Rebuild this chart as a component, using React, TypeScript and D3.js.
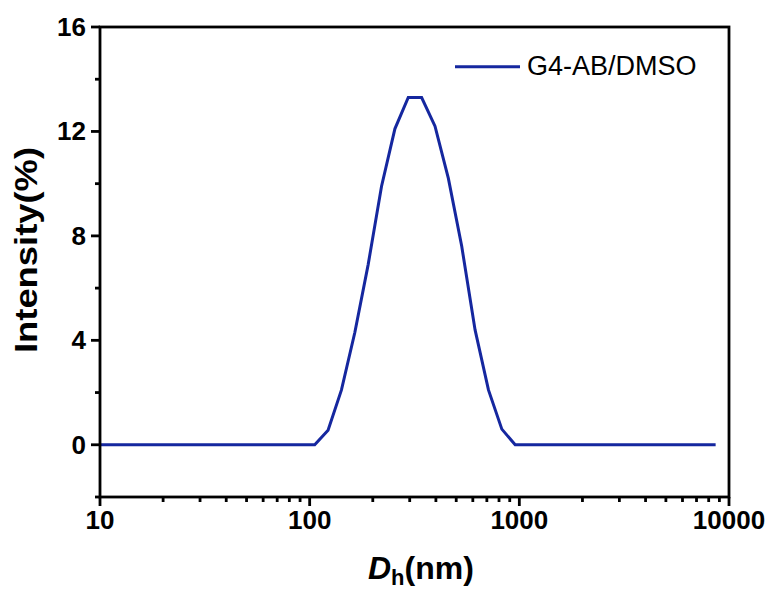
import React from "react";
import * as d3 from "d3";

const sizes = [10.1, 11.7, 13.54, 15.69, 18.17, 21.04, 24.36, 28.21, 32.67, 37.84, 43.82, 50.75, 58.77, 68.06, 78.82, 91.28, 105.7, 122.4, 141.8, 164.2, 190.1, 220.2, 255.0, 295.3, 342.0, 396.1, 458.7, 531.2, 615.1, 712.4, 825.0, 955.4, 1106, 1281, 1484, 1718, 1990, 2305, 2669, 3091, 3580, 4145, 4801, 5560, 6439, 7456, 8635];
const intensity = [0, 0, 0, 0, 0, 0, 0, 0, 0, 0, 0, 0, 0, 0, 0, 0, 0, 0.56, 2.1, 4.3, 6.9, 9.9, 12.1, 13.3, 13.3, 12.2, 10.2, 7.6, 4.4, 2.1, 0.6, 0, 0, 0, 0, 0, 0, 0, 0, 0, 0, 0, 0, 0, 0, 0, 0];
const xMajorTicks = [10, 100, 1000, 10000];
const xMinorTicks = [20, 30, 40, 50, 60, 70, 80, 90, 200, 300, 400, 500, 600, 700, 800, 900, 2000, 3000, 4000, 5000, 6000, 7000, 8000, 9000];
const yMajorTicks = [0, 4, 8, 12, 16];
const yMinorTicks = [-2, 2, 6, 10, 14];
const seriesName = "G4-AB/DMSO";

const W = 773, H = 592;
const L = 100, R = 729, T = 27, B = 497;
const BLUE = "#15279f";
const FONT = "'Liberation Sans', Arial, sans-serif";

export default function App() {
  const x = d3.scaleLog().domain([10, 10000]).range([L, R]);
  const y = d3.scaleLinear().domain([-2, 16]).range([B, T]);
  const line = d3.line<number>().x((d, i) => x(sizes[i])).y((d) => y(d));
  const path = line(intensity) || "";

  return (
    <svg width={W} height={H} style={{ position: "absolute", left: 0, top: 0, background: "#fff" }}>
      <rect x={0} y={0} width={W} height={H} fill="#fff" />
      <path d={path} fill="none" stroke={BLUE} strokeWidth={3} strokeLinejoin="miter" />
      <rect x={L} y={T} width={R - L} height={B - T} fill="none" stroke="#000" strokeWidth={2.8} />
      {xMajorTicks.map((t) => (
        <g key={"xM" + t}>
          <line x1={x(t)} x2={x(t)} y1={B} y2={B + 9} stroke="#000" strokeWidth={2.8} />
          <text x={x(t)} y={529} textAnchor="middle" fontFamily={FONT} fontWeight="bold" fontSize={26}>{t}</text>
        </g>
      ))}
      {xMinorTicks.map((t) => (
        <line key={"xm" + t} x1={x(t)} x2={x(t)} y1={B} y2={B + 5} stroke="#000" strokeWidth={2.8} />
      ))}
      {yMajorTicks.map((t) => (
        <g key={"yM" + t}>
          <line x1={L - 9} x2={L} y1={y(t)} y2={y(t)} stroke="#000" strokeWidth={2.8} />
          <text x={86} y={y(t) + 9} textAnchor="end" fontFamily={FONT} fontWeight="bold" fontSize={26}>{t}</text>
        </g>
      ))}
      {yMinorTicks.map((t) => (
        <line key={"ym" + t} x1={L - 5} x2={L} y1={y(t)} y2={y(t)} stroke="#000" strokeWidth={2.8} />
      ))}
      <text transform="translate(37,250) rotate(-90)" textAnchor="middle" fontFamily={FONT} fontWeight="bold" fontSize={31} textLength={206} lengthAdjust="spacingAndGlyphs">Intensity(%)</text>
      <text x={368} y={579} fontFamily={FONT} fontWeight="bold" fontSize={32}>
        <tspan fontStyle="italic">D</tspan>
        <tspan fontSize={22} dy={6}>h</tspan>
        <tspan dy={-6}>(nm)</tspan>
      </text>
      <line x1={455} x2={520} y1={66.7} y2={66.7} stroke={BLUE} strokeWidth={3} />
      <text x={527} y={75} fontFamily={FONT} fontSize={27}>{seriesName}</text>
    </svg>
  );
}
